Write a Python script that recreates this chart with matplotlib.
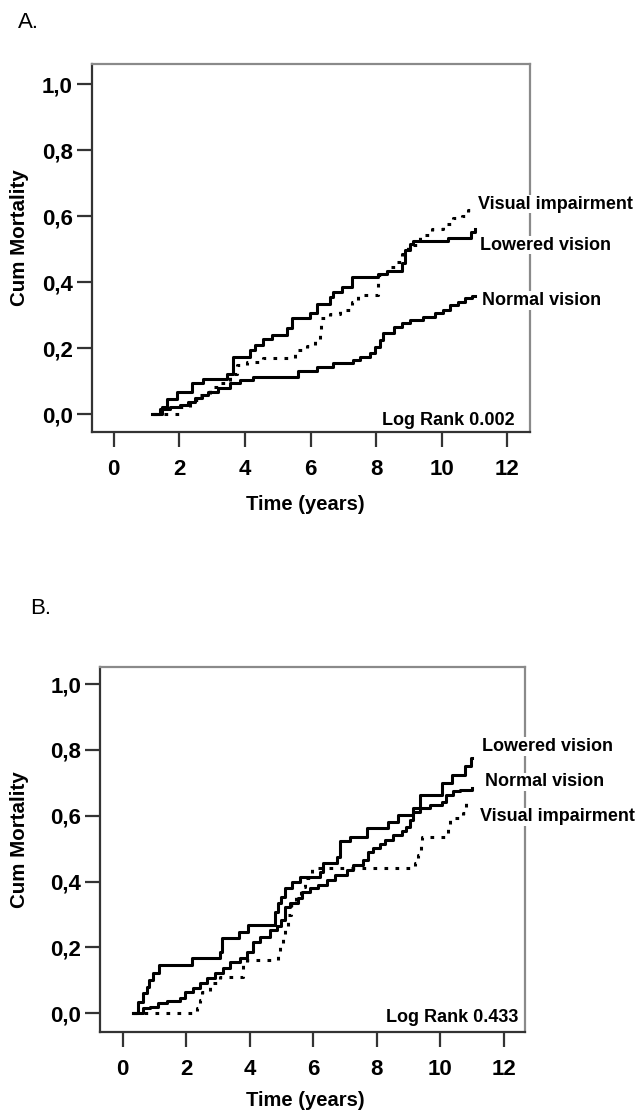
import matplotlib
matplotlib.use("Agg")

import matplotlib.pyplot as plt

plt.rcParams["font.family"] = ["Liberation Sans", "DejaVu Sans"]

# ======================================
# DATA
# ======================================

x_ticks = [0, 2, 4, 6, 8, 10, 12]
y_ticks = [0.0, 0.2, 0.4, 0.6, 0.8, 1.0]
y_tick_labels = ["0,0", "0,2", "0,4", "0,6", "0,8", "1,0"]

# panel A
a_lowered_t = [1.16, 1.46, 1.61, 1.92, 2.38, 2.73, 3.44, 3.65, 4.16, 4.31, 4.56, 4.82,
               5.27, 5.43, 5.98, 6.19, 6.59, 6.70, 6.95, 7.26, 8.07, 8.32, 8.78, 8.88,
               9.03, 9.13, 10.20, 10.88, 11.02]
a_lowered_y = [0.0, 0.022, 0.047, 0.068, 0.093, 0.106, 0.123, 0.174, 0.194, 0.209, 0.229, 0.239,
               0.26, 0.29, 0.305, 0.333, 0.355, 0.371, 0.386, 0.416, 0.426, 0.434, 0.457, 0.497,
               0.517, 0.525, 0.535, 0.552, 0.560]

a_visual_t = [1.21, 2.02, 2.33, 2.63, 2.94, 3.24, 3.55, 3.75, 4.05, 4.56, 5.53, 5.88,
              6.14, 6.29, 6.33, 6.59, 6.90, 7.26, 7.46, 8.07, 8.32, 8.58, 8.78, 8.98,
              9.34, 9.70, 10.05, 10.35, 10.61, 10.81, 10.95]
a_visual_y = [0.0, 0.022, 0.042, 0.058, 0.081, 0.093, 0.123, 0.148, 0.158, 0.169, 0.194, 0.206,
              0.224, 0.255, 0.29, 0.303, 0.315, 0.34, 0.361, 0.421, 0.446, 0.461, 0.485, 0.512,
              0.542, 0.56, 0.576, 0.593, 0.60, 0.62, 0.625]

a_normal_t = [1.21, 1.41, 1.72, 2.02, 2.28, 2.48, 2.68, 2.88, 3.19, 3.55, 3.85, 4.26,
              5.63, 6.19, 6.70, 7.31, 7.51, 7.81, 7.97, 8.12, 8.22, 8.53, 8.78, 9.03,
              9.44, 9.80, 10.05, 10.25, 10.51, 10.71, 10.91, 11.0]
a_normal_y = [0.0, 0.017, 0.022, 0.027, 0.037, 0.048, 0.058, 0.068, 0.078, 0.093, 0.103, 0.113,
              0.131, 0.143, 0.154, 0.164, 0.174, 0.184, 0.202, 0.224, 0.245, 0.263, 0.275, 0.285,
              0.295, 0.305, 0.317, 0.33, 0.34, 0.351, 0.358, 0.358]

# panel B
b_lowered_t = [0.34, 0.50, 0.65, 0.76, 0.84, 0.97, 1.16, 2.18, 3.07, 3.12, 3.67, 3.94,
               4.80, 4.90, 5.00, 5.11, 5.32, 5.58, 6.21, 6.31, 6.74, 6.84, 7.15, 7.68,
               8.36, 8.67, 9.14, 9.36, 10.04, 10.35, 10.77, 10.95, 11.0]
b_lowered_y = [0.0, 0.035, 0.061, 0.081, 0.101, 0.122, 0.147, 0.167, 0.187, 0.228, 0.248, 0.268,
               0.309, 0.334, 0.354, 0.38, 0.40, 0.415, 0.43, 0.456, 0.476, 0.522, 0.537, 0.562,
               0.582, 0.603, 0.623, 0.664, 0.699, 0.724, 0.75, 0.775, 0.775]

b_normal_t = [0.34, 0.65, 0.86, 1.13, 1.39, 1.81, 1.97, 2.23, 2.44, 2.65, 2.91, 3.17,
              3.38, 3.69, 3.91, 4.09, 4.32, 4.64, 4.85, 5.00, 5.11, 5.27, 5.53, 5.63,
              5.90, 6.16, 6.42, 6.68, 7.05, 7.26, 7.57, 7.73, 7.89, 8.10, 8.25, 8.52,
              8.78, 8.92, 9.04, 9.14, 9.36, 9.67, 10.04, 10.19, 10.40, 10.61, 10.98]
b_normal_y = [0.0, 0.015, 0.02, 0.03, 0.038, 0.046, 0.066, 0.076, 0.091, 0.106, 0.122, 0.137,
              0.157, 0.167, 0.187, 0.218, 0.233, 0.253, 0.265, 0.284, 0.324, 0.334, 0.35, 0.37,
              0.38, 0.39, 0.405, 0.42, 0.435, 0.451, 0.466, 0.491, 0.502, 0.515, 0.527, 0.542,
              0.555, 0.567, 0.588, 0.613, 0.623, 0.633, 0.643, 0.664, 0.674, 0.679, 0.684]

b_visual_t = [0.34, 2.33, 2.44, 2.51, 2.75, 3.07, 3.80, 3.91, 4.90, 4.95, 5.06, 5.11,
              5.20, 5.30, 5.45, 5.60, 5.75, 5.95, 9.20, 9.30, 9.38, 9.42, 10.25, 10.30,
              10.72, 10.82, 10.86]
b_visual_y = [0.0, 0.015, 0.04, 0.066, 0.091, 0.111, 0.147, 0.162, 0.177, 0.208, 0.233, 0.263,
              0.30, 0.33, 0.36, 0.385, 0.41, 0.44, 0.456, 0.481, 0.511, 0.537, 0.562, 0.592,
              0.608, 0.653, 0.653]


# ======================================
# HELPERS
# ======================================

def style_axes(ax, xlim, ylim):
    ax.set_xlim(*xlim)
    ax.set_ylim(*ylim)
    ax.set_xticks(x_ticks)
    ax.set_yticks(y_ticks)
    ax.set_yticklabels(y_tick_labels)
    ax.tick_params(axis="x", length=10.5, width=1.6, pad=9, labelsize=16, color="#333333")
    ax.tick_params(axis="y", length=10.5, width=1.6, pad=3, labelsize=16, color="#333333")
    for lab in ax.get_xticklabels() + ax.get_yticklabels():
        lab.set_fontweight("bold")
    ax.spines["left"].set_color("#333333")
    ax.spines["bottom"].set_color("#333333")
    ax.spines["top"].set_color("#8a8a8a")
    ax.spines["right"].set_color("#8a8a8a")
    for s in ax.spines.values():
        s.set_linewidth(1.6)


def draw_curves(ax, curves):
    for t, y, ls in curves:
        if ls == "dot":
            ax.step(t, y, where="post", color="black", lw=2.2,
                    linestyle=(0, (1.2, 2.4)), dash_capstyle="butt")
        else:
            ax.step(t, y, where="post", color="black", lw=2.2)


def curve_label(ax, x, y, txt):
    ax.text(x, y, txt, fontsize=13, fontweight="bold", va="center", ha="left",
            clip_on=False, zorder=5,
            bbox=dict(facecolor="white", edgecolor="none", pad=0.5))


# ======================================
# FIGURE
# ======================================

fig = plt.figure(figsize=(6.4, 11.13), dpi=100)

# ----------------------------------
# A
# ----------------------------------

ax1 = fig.add_axes([0.1433, 0.6116, 0.6848, 0.3309])
style_axes(ax1, (-0.67, 12.69), (-0.055, 1.061))
draw_curves(ax1, [
    (a_lowered_t, a_lowered_y, "solid"),
    (a_visual_t, a_visual_y, "dot"),
    (a_normal_t, a_normal_y, "solid"),
])
curve_label(ax1, 11.11, 0.636, "Visual impairment")
curve_label(ax1, 11.17, 0.512, "Lowered vision")
curve_label(ax1, 11.23, 0.345, "Normal vision")
ax1.text(0.966, 0.02, "Log Rank 0.002", transform=ax1.transAxes, ha="right",
         va="baseline", fontsize=13, fontweight="bold")

fig.text(0.028, 1 - 22 / 1113, "A.", fontsize=16, va="center", ha="left")
fig.text(0.030, 1 - 238 / 1113, "Cum Mortality", rotation=90, fontsize=14.8,
         fontweight="bold", va="center", ha="center")
fig.text(305 / 640, 1 - 505 / 1113, "Time (years)", fontsize=14.5,
         fontweight="bold", va="center", ha="center")

# ----------------------------------
# B
# ----------------------------------

ax2 = fig.add_axes([0.15625, 0.0730, 0.664, 0.328])
style_axes(ax2, (-0.71, 12.66), (-0.056, 1.053))
draw_curves(ax2, [
    (b_lowered_t, b_lowered_y, "solid"),
    (b_normal_t, b_normal_y, "solid"),
    (b_visual_t, b_visual_y, "dot"),
])
curve_label(ax2, 11.30, 0.81, "Lowered vision")
curve_label(ax2, 11.40, 0.703, "Normal vision")
curve_label(ax2, 11.24, 0.597, "Visual impairment")
ax2.text(0.984, 0.027, "Log Rank 0.433", transform=ax2.transAxes, ha="right",
         va="baseline", fontsize=13, fontweight="bold")

fig.text(0.047, 1 - 608 / 1113, "B.", fontsize=16, va="center", ha="left")
fig.text(0.030, 1 - 840 / 1113, "Cum Mortality", rotation=90, fontsize=14.8,
         fontweight="bold", va="center", ha="center")
fig.text(305 / 640, 1 - 1100 / 1113, "Time (years)", fontsize=14.5,
         fontweight="bold", va="center", ha="center")

plt.savefig("out.png", dpi=100)
plt.close()
